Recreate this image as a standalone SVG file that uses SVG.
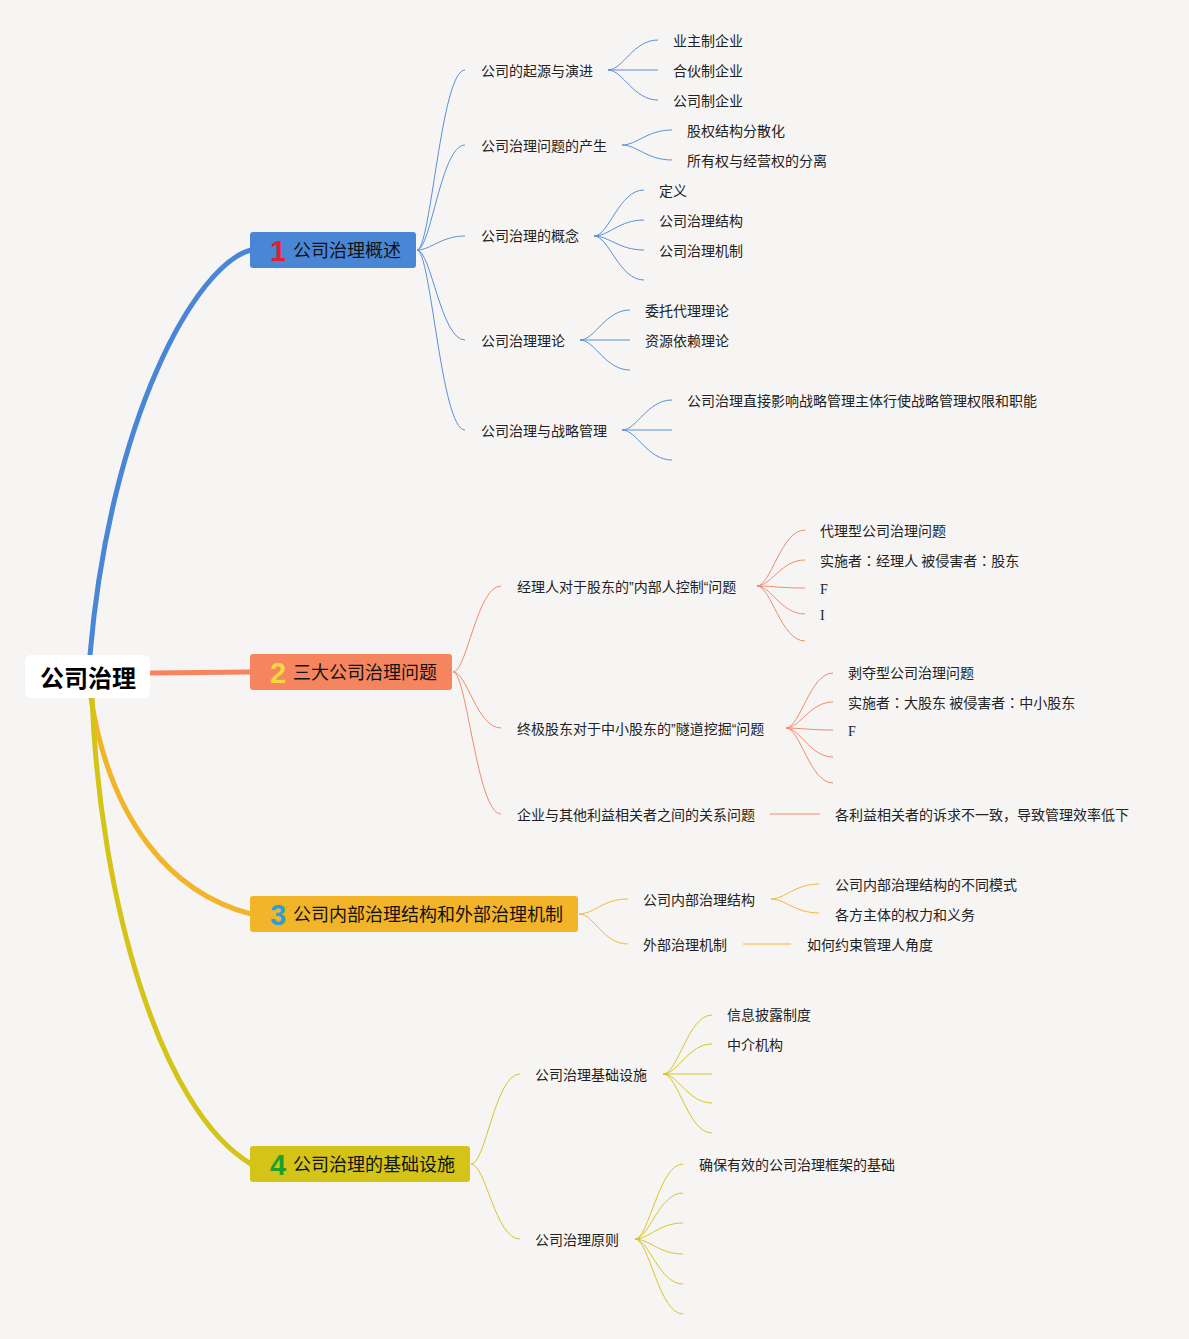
<svg xmlns="http://www.w3.org/2000/svg" width="1189" height="1339" viewBox="0 0 1189 1339">
<style>
.t{font-family:"Noto Sans CJK SC","Noto Sans",sans-serif;font-size:14px;fill:#222}
.s{font-family:"Liberation Serif",serif;font-size:14px;fill:#222}
.q{font-family:"Liberation Sans",sans-serif}
.k{font-family:"Noto Sans CJK TC",sans-serif}
.h{font-family:"Noto Sans CJK SC","Noto Sans",sans-serif;font-size:18px;fill:#111}
.n{font-family:"Liberation Sans","DejaVu Sans",sans-serif;font-size:29px;font-weight:bold;text-anchor:middle}
.r{font-family:"Noto Sans CJK SC","Noto Sans",sans-serif;font-size:24px;font-weight:bold;fill:#000;text-anchor:middle}
.c1{stroke:#5b8fd7;stroke-width:1;fill:none}
.c2{stroke:#f28b6e;stroke-width:1;fill:none}
.c3{stroke:#f2b835;stroke-width:1;fill:none}
.c4{stroke:#d6c62a;stroke-width:1;fill:none}
.m{stroke-width:5;fill:none;stroke-linecap:round}
</style>
<rect width="1189" height="1339" fill="#f6f5f3"/>
<g id="connectors">
<path class="m" stroke="#4a86d6" d="M90,655 C110,420 195,265 251,250"/>
<path class="m" stroke="#f4855f" d="M150,673 L251,672"/>
<path class="m" stroke="#f2b52a" d="M91,698 C110,820 170,893 251,914"/>
<path class="m" stroke="#d4c418" d="M92,698 C100,900 160,1110 251,1164"/>
<g class="c1">
<path d="M417,250 C431,250 441,70 465,70"/>
<path d="M417,250 C431,250 441,145 465,145"/>
<path d="M417,250 C431,250 441,236 465,236"/>
<path d="M417,250 C431,250 441,340 465,340"/>
<path d="M417,250 C431,250 441,430 465,430"/>
<path d="M608,70 C623,70 633,40 658,40"/>
<path d="M608,70 L658,70"/>
<path d="M608,70 C623,70 633,100 658,100"/>
<path d="M622,145 C637,145 647,130 672,130"/>
<path d="M622,145 C637,145 647,160 672,160"/>
<path d="M594,236 C609,236 619,190 644,190"/>
<path d="M594,236 C609,236 619,220 644,220"/>
<path d="M594,236 C609,236 619,250 644,250"/>
<path d="M594,236 C609,236 619,280 644,280"/>
<path d="M580,340 C595,340 605,310 630,310"/>
<path d="M580,340 L630,340"/>
<path d="M580,340 C595,340 605,370 630,370"/>
<path d="M622,430 C637,430 647,400 672,400"/>
<path d="M622,430 L672,430"/>
<path d="M622,430 C637,430 647,460 672,460"/>
</g>
<g class="c2">
<path d="M453,672 C467,672 477,586 501,586"/>
<path d="M453,672 C467,672 477,728 501,728"/>
<path d="M453,672 C467,672 477,814 501,814"/>
<path d="M757,586 C771,586 781,530 805,530"/>
<path d="M757,586 C771,586 781,560 805,560"/>
<path d="M757,586 C771,586 781,588 805,588"/>
<path d="M757,586 C771,586 781,614 805,614"/>
<path d="M757,586 C771,586 781,641 805,641"/>
<path d="M786,728 C800,728 810,673 833,673"/>
<path d="M786,728 C800,728 810,702 833,702"/>
<path d="M786,728 C800,728 810,730 833,730"/>
<path d="M786,728 C800,728 810,757 833,757"/>
<path d="M786,728 C800,728 810,783 833,783"/>
<path d="M770,814 L820,814"/>
</g>
<g class="c3">
<path d="M579,914 C594,914 603,899 628,899"/>
<path d="M579,914 C594,914 603,944 628,944"/>
<path d="M771,899 C785,899 795,884 819,884"/>
<path d="M771,899 C785,899 795,913 819,913"/>
<path d="M743,944 L791,944"/>
</g>
<g class="c4">
<path d="M471,1164 C486,1164 495,1074 520,1074"/>
<path d="M471,1164 C486,1164 495,1239 520,1239"/>
<path d="M663,1074 C678,1074 688,1015 712,1015"/>
<path d="M663,1074 C678,1074 688,1044 712,1044"/>
<path d="M663,1074 L712,1074"/>
<path d="M663,1074 C678,1074 688,1103 712,1103"/>
<path d="M663,1074 C678,1074 688,1133 712,1133"/>
<path d="M635,1239 C649,1239 659,1164 683,1164"/>
<path d="M635,1239 C649,1239 659,1193 683,1193"/>
<path d="M635,1239 C649,1239 659,1223 683,1223"/>
<path d="M635,1239 C649,1239 659,1254 683,1254"/>
<path d="M635,1239 C649,1239 659,1284 683,1284"/>
<path d="M635,1239 C649,1239 659,1314 683,1314"/>
</g>
</g>
<g id="root">
<rect x="25" y="655" width="125" height="43" rx="6" fill="#ffffff"/>
<text class="r" x="88" y="687">公司治理</text>
</g>
<g id="b1">
<rect x="250" y="232" width="166" height="36" rx="3" fill="#4a86d6"/>
<text class="n" x="278" y="261" fill="#e0202e">1</text>
<text class="h" x="293" y="257">公司治理概述</text>
</g>
<g id="b2">
<rect x="250" y="654" width="202" height="36" rx="3" fill="#f4855f"/>
<text class="n" x="278" y="683" fill="#f7d83c">2</text>
<text class="h" x="293" y="679">三大公司治理问题</text>
</g>
<g id="b3">
<rect x="250" y="896" width="328" height="36" rx="3" fill="#f2b52a"/>
<text class="n" x="278" y="925" fill="#2a9fd8">3</text>
<text class="h" x="293" y="921">公司内部治理结构和外部治理机制</text>
</g>
<g id="b4">
<rect x="250" y="1146" width="220" height="36" rx="3" fill="#d4c418"/>
<text class="n" x="278" y="1175" fill="#1e9e2a">4</text>
<text class="h" x="293" y="1171">公司治理的基础设施</text>
</g>
<g id="b1-children">
<text class="t" x="481" y="76">公司的起源与演进</text>
<text class="t" x="673" y="46">业主制企业</text>
<text class="t" x="673" y="76">合伙制企业</text>
<text class="t" x="673" y="106">公司制企业</text>
<text class="t" x="481" y="151">公司治理问题的产生</text>
<text class="t" x="687" y="136">股权结构分散化</text>
<text class="t" x="687" y="166">所有权与经营权的分离</text>
<text class="t" x="481" y="241">公司治理的概念</text>
<text class="t" x="659" y="196">定义</text>
<text class="t" x="659" y="226">公司治理结构</text>
<text class="t" x="659" y="256">公司治理机制</text>
<text class="t" x="481" y="346">公司治理理论</text>
<text class="t" x="645" y="316">委托代理理论</text>
<text class="t" x="645" y="346">资源依赖理论</text>
<text class="t" x="481" y="436">公司治理与战略管理</text>
<text class="t" x="687" y="406">公司治理直接影响战略管理主体行使战略管理权限和职能</text>
</g>
<g id="b2-children">
<text class="t" x="517" y="592">经理人对于股东的<tspan class="q">”</tspan>内部人控制<tspan class="q">“</tspan>问题</text>
<text class="t" x="820" y="536">代理型公司治理问题</text>
<text class="t" x="820" y="566">实施者<tspan class="k">：</tspan>经理人 被侵害者<tspan class="k">：</tspan>股东</text>
<text class="s" x="820" y="594">F</text>
<text class="s" x="820" y="620">I</text>
<text class="t" x="517" y="734">终极股东对于中小股东的<tspan class="q">”</tspan>隧道挖掘<tspan class="q">“</tspan>问题</text>
<text class="t" x="848" y="678">剥夺型公司治理问题</text>
<text class="t" x="848" y="708">实施者<tspan class="k">：</tspan>大股东 被侵害者<tspan class="k">：</tspan>中小股东</text>
<text class="s" x="848" y="736">F</text>
<text class="t" x="517" y="820">企业与其他利益相关者之间的关系问题</text>
<text class="t" x="835" y="820">各利益相关者的诉求不一致，导致管理效率低下</text>
</g>
<g id="b3-children">
<text class="t" x="643" y="905">公司内部治理结构</text>
<text class="t" x="835" y="890">公司内部治理结构的不同模式</text>
<text class="t" x="835" y="920">各方主体的权力和义务</text>
<text class="t" x="643" y="950">外部治理机制</text>
<text class="t" x="807" y="950">如何约束管理人角度</text>
</g>
<g id="b4-children">
<text class="t" x="535" y="1080">公司治理基础设施</text>
<text class="t" x="727" y="1020">信息披露制度</text>
<text class="t" x="727" y="1050">中介机构</text>
<text class="t" x="535" y="1245">公司治理原则</text>
<text class="t" x="699" y="1170">确保有效的公司治理框架的基础</text>
</g>
</svg>
